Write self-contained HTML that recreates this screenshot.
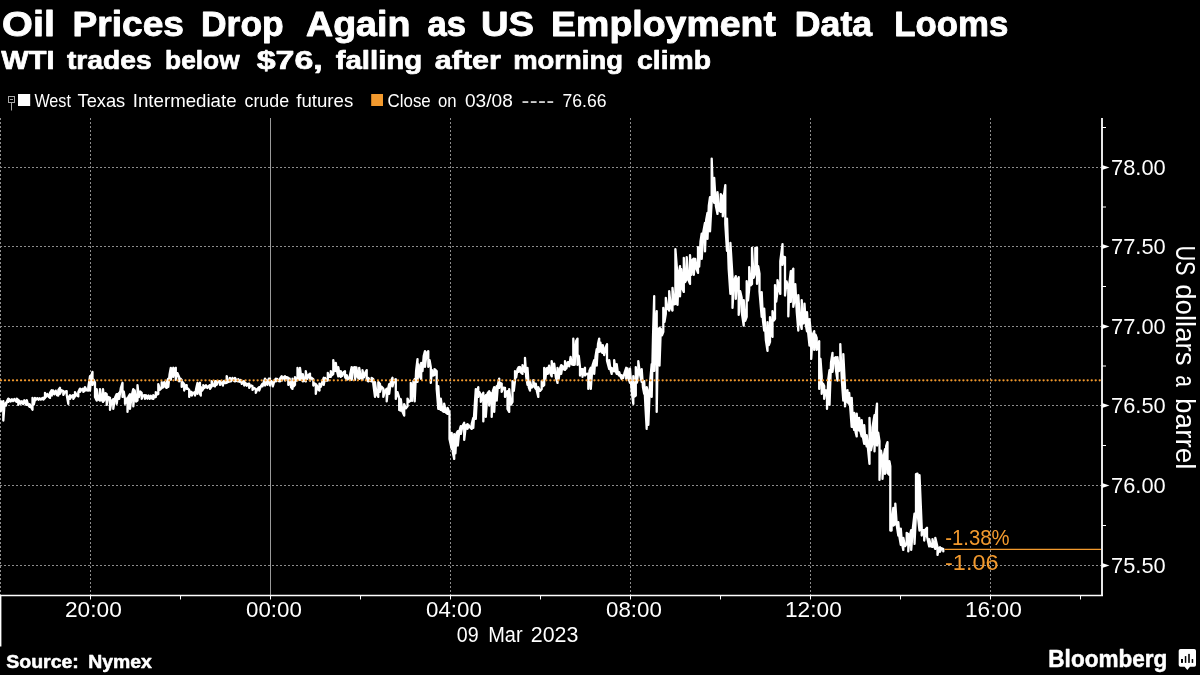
<!DOCTYPE html>
<html><head><meta charset="utf-8"><title>Oil Prices Drop Again as US Employment Data Looms</title>
<style>
html,body{margin:0;padding:0;background:#000;}
body{width:1200px;height:675px;overflow:hidden;font-family:"Liberation Sans",sans-serif;}
svg{display:block;}
.tx{filter:grayscale(1);}
.to{filter:contrast(1);}
text{font-family:"Liberation Sans",sans-serif;fill:#fff;}
.b{font-weight:bold;}
</style></head><body>
<svg width="1200" height="675" viewBox="0 0 1200 675">
<rect x="0" y="0" width="1200" height="675" fill="#000"/>

<g stroke="#8c8c8c" stroke-width="1" stroke-dasharray="2 2" fill="none">
<line x1="0" y1="167.5" x2="1101" y2="167.5"/>
<line x1="0" y1="246.5" x2="1101" y2="246.5"/>
<line x1="0" y1="326.5" x2="1101" y2="326.5"/>
<line x1="0" y1="405.5" x2="1101" y2="405.5"/>
<line x1="0" y1="485.5" x2="1101" y2="485.5"/>
<line x1="0" y1="565.5" x2="1101" y2="565.5"/>
<line x1="90.5" y1="118" x2="90.5" y2="595"/>
<line x1="450.5" y1="118" x2="450.5" y2="595"/>
<line x1="630.5" y1="118" x2="630.5" y2="595"/>
<line x1="810.5" y1="118" x2="810.5" y2="595"/>
<line x1="990.5" y1="118" x2="990.5" y2="595"/>
<line x1="0.5" y1="118" x2="0.5" y2="595"/>
</g>
<line x1="270.5" y1="118" x2="270.5" y2="595" stroke="#9a9a9a" stroke-width="1"/>
<polyline points="0.8,401.1 0.8,411.4 2.0,403.9 3.3,401.1 3.3,420.6 4.5,404.6 5.8,402.8 5.8,405.6 7.1,401.0 8.3,398.6 8.3,401.9 9.5,399.4 10.7,401.5 11.9,399.2 13.1,401.0 14.3,399.0 15.5,401.0 16.7,401.9 16.7,398.6 18.3,400.1 18.3,404.9 19.5,400.8 20.7,403.7 21.9,401.3 23.1,404.1 24.3,400.3 25.5,403.7 26.7,404.9 26.7,400.1 28.2,405.1 29.7,406.9 29.7,404.1 31.1,407.5 32.5,409.7 32.5,397.8 33.8,404.6 35.0,399.7 35.0,397.8 36.2,399.5 37.4,398.1 38.6,399.7 39.7,398.3 40.9,399.6 42.1,398.2 43.3,397.8 43.3,399.7 45.0,397.9 45.0,392.8 46.2,396.7 47.5,394.0 48.8,396.9 50.0,397.9 50.0,392.8 51.7,390.1 51.7,395.6 53.0,390.4 54.3,394.4 55.7,390.7 57.0,395.1 58.3,395.6 58.3,390.1 60.0,387.8 60.0,393.9 61.6,390.3 63.3,391.1 63.3,394.9 65.0,391.6 66.7,391.1 66.7,394.9 68.3,403.9 68.3,397.8 70.0,395.1 70.0,398.9 71.7,396.1 73.3,395.1 73.3,398.9 75.0,396.4 75.0,392.1 76.7,395.3 78.3,396.4 78.3,392.1 80.0,388.6 80.0,391.9 81.7,389.3 83.3,388.6 83.3,391.9 85.0,390.6 85.0,387.1 86.7,390.3 88.3,390.6 88.3,387.1 90.0,376.1 90.0,390.6 91.2,376.2 92.5,371.9 92.5,384.9 93.8,379.9 95.0,382.8 95.0,396.9 96.7,400.6 96.7,389.1 98.3,399.3 100.0,400.6 100.0,389.1 101.5,399.4 103.0,401.9 103.0,389.1 104.2,400.6 105.5,393.1 106.7,394.1 106.7,404.9 108.3,396.9 110.0,397.8 110.0,409.9 111.7,400.7 113.3,399.1 113.3,408.9 115.0,397.7 116.7,394.1 116.7,403.9 118.0,394.5 119.2,392.8 119.2,398.9 120.8,388.1 122.5,382.8 122.5,396.9 123.8,391.7 125.0,399.1 125.0,403.9 126.2,400.3 127.5,397.8 127.5,411.9 128.8,396.0 130.0,394.1 130.0,408.9 131.7,395.5 133.3,389.1 133.3,406.4 134.7,390.4 136.1,401.5 137.5,400.6 137.5,385.1 138.9,397.1 140.3,391.5 141.7,392.8 141.7,398.9 143.3,395.3 145.0,395.1 145.0,398.9 146.2,395.4 147.4,398.7 148.6,395.5 149.7,398.8 150.9,395.8 152.1,398.6 153.3,398.9 153.3,395.1 154.6,397.4 155.8,396.9 155.8,392.1 157.1,394.6 158.3,393.9 158.3,384.1 160.0,389.7 161.7,387.9 161.7,382.1 162.9,387.6 164.2,382.2 165.4,387.1 166.7,387.9 166.7,382.1 168.3,378.6 168.3,386.9 169.6,374.1 170.8,367.8 170.8,379.9 172.1,370.5 173.3,367.8 173.3,376.9 174.6,368.7 175.8,367.8 175.8,379.9 177.5,373.2 179.2,377.1 179.2,381.4 180.4,378.6 181.7,380.1 181.7,386.9 182.9,382.4 184.2,384.1 184.2,390.6 185.4,385.6 186.7,385.1 186.7,388.9 187.9,388.5 189.2,390.1 189.2,396.9 190.4,391.6 191.7,392.1 191.7,395.6 193.3,393.0 195.0,392.1 195.0,395.6 196.2,388.5 197.5,382.8 197.5,393.9 198.8,385.3 200.0,382.8 200.0,393.9 200.8,395.6 200.8,386.9 202.1,390.7 203.3,388.9 203.3,385.1 204.6,387.9 206.0,385.3 207.3,388.0 208.7,385.9 210.0,385.1 210.0,388.9 211.7,386.4 211.7,381.1 213.3,385.5 215.0,386.4 215.0,381.1 216.7,381.1 216.7,384.9 218.3,381.2 220.0,381.1 220.0,384.9 221.4,382.5 222.8,382.1 222.8,385.6 224.1,380.8 225.4,383.1 226.7,382.9 226.7,376.1 228.3,382.0 230.0,381.4 230.0,377.8 231.2,381.2 232.5,377.9 233.8,380.7 235.0,381.4 235.0,377.8 236.7,380.9 238.3,381.4 238.3,379.1 239.5,381.8 240.7,380.0 241.8,383.9 243.0,381.6 244.2,381.1 244.2,385.6 245.4,382.7 246.7,385.8 247.9,383.9 249.2,383.6 249.2,387.9 250.8,385.4 252.5,386.1 252.5,389.9 254.2,388.0 255.8,389.1 255.8,392.9 257.5,388.8 259.2,387.1 259.2,390.6 260.9,386.2 262.5,383.6 262.5,386.4 263.8,381.9 265.0,378.6 265.0,385.6 266.2,379.8 267.5,384.8 268.8,378.7 270.0,378.6 270.0,385.6 271.4,381.2 272.8,382.8 272.8,386.4 274.3,381.1 275.8,378.6 275.8,381.4 277.2,378.9 278.6,381.2 280.0,381.4 280.0,378.6 281.7,376.1 281.7,380.6 283.4,377.3 285.0,376.1 285.0,380.6 286.6,377.1 288.3,377.8 288.3,384.9 289.7,378.6 291.1,387.2 292.5,388.9 292.5,378.6 293.8,386.4 295.0,384.9 295.0,377.1 296.2,380.7 297.5,379.9 297.5,367.8 298.8,377.9 300.0,379.9 300.0,367.8 301.4,378.3 302.8,381.4 302.8,374.1 304.3,380.5 305.8,381.4 305.8,371.1 307.2,378.8 308.6,374.8 310.0,373.6 310.0,380.6 311.6,377.8 313.3,379.1 313.3,385.6 314.6,383.5 315.8,384.1 315.8,393.9 317.0,385.5 318.3,389.6 319.5,390.6 319.5,383.6 320.9,386.8 322.3,381.4 323.7,377.8 323.7,384.9 325.1,377.9 326.4,380.7 327.8,380.6 327.8,372.8 329.3,376.9 330.8,376.9 330.8,371.1 332.1,375.1 333.3,373.9 333.3,360.1 334.6,371.1 335.8,370.6 335.8,362.8 337.1,371.5 338.3,376.4 338.3,367.1 339.6,375.1 340.8,376.9 340.8,371.1 342.2,375.9 343.6,372.1 345.0,371.1 345.0,376.9 346.7,379.9 346.7,375.1 348.4,378.7 350.0,379.9 350.0,375.1 351.7,367.1 351.7,379.9 353.4,367.6 355.0,367.1 355.0,379.9 356.4,367.4 357.8,377.5 359.2,378.9 359.2,367.8 360.9,377.9 362.5,379.9 362.5,370.1 363.9,377.4 365.3,372.5 366.7,370.1 366.7,379.9 368.3,381.4 368.3,377.8 370.0,380.7 371.7,381.4 371.7,377.8 373.3,379.1 373.3,383.9 375.0,396.9 375.0,382.1 376.6,393.9 378.3,396.9 378.3,382.1 380.0,384.1 380.0,391.9 381.6,386.7 383.3,388.6 383.3,396.9 385.0,391.0 386.7,388.6 386.7,401.4 387.9,389.4 389.2,384.1 389.2,393.9 390.9,381.1 392.5,377.8 392.5,386.4 394.1,380.3 395.8,379.1 395.8,398.9 397.5,392.2 399.2,397.8 399.2,409.9 400.8,410.6 400.8,399.1 402.5,411.7 404.2,415.6 404.2,404.1 405.9,408.4 407.5,406.4 407.5,398.6 409.1,401.8 410.8,400.6 410.8,382.8 412.1,400.8 413.4,381.1 414.7,379.1 414.7,401.4 416.1,371.0 417.5,359.1 417.5,381.9 418.7,364.5 420.0,376.7 421.2,378.9 421.2,362.8 422.5,371.2 423.7,356.0 425.0,351.1 425.0,366.9 426.6,353.1 428.3,351.1 428.3,366.9 429.6,360.1 430.8,367.1 430.8,382.9 432.0,370.1 433.3,375.6 434.5,374.9 434.5,369.1 436.7,371.1 436.7,388.9 438.3,408.9 438.3,386.1 439.6,408.5 440.8,409.9 440.8,398.6 442.5,410.9 444.2,411.9 444.2,403.6 445.9,412.6 447.5,413.9 447.5,407.8 449.5,412.8 449.5,438.9 451.7,448.9 451.7,432.8 452.9,452.8 454.2,458.9 454.2,434.1 455.4,453.4 456.6,433.4 457.8,431.1 457.8,445.6 459.3,431.0 460.8,426.1 460.8,433.9 462.5,426.1 464.2,422.8 464.2,439.9 465.9,425.4 467.5,424.1 467.5,428.9 468.9,425.4 470.3,427.6 471.7,428.9 471.7,424.1 473.3,417.8 473.3,427.9 474.6,407.4 475.8,389.1 475.8,418.9 477.1,392.1 478.3,387.1 478.3,396.9 479.6,392.3 480.8,396.1 480.8,401.9 482.1,394.7 483.3,392.8 483.3,421.4 484.6,397.8 485.8,395.1 485.8,416.9 487.5,393.4 489.2,391.1 489.2,405.6 490.4,392.7 491.7,394.1 491.7,416.9 492.9,390.9 494.2,387.1 494.2,411.9 495.4,390.0 496.7,386.1 496.7,400.6 497.9,384.9 499.2,378.6 499.2,387.9 500.4,383.0 501.7,383.6 501.7,391.9 503.4,387.6 505.0,387.8 505.0,396.9 506.2,392.4 507.5,391.1 507.5,408.9 509.2,411.9 509.2,389.1 510.9,404.6 512.5,401.9 512.5,381.1 513.8,390.8 515.0,380.6 515.0,371.1 516.2,377.4 517.5,369.3 518.7,367.1 518.7,371.9 520.0,367.0 521.2,372.8 522.5,373.9 522.5,365.1 523.8,370.0 525.0,371.9 525.0,357.8 526.2,376.9 527.5,384.9 527.5,367.8 528.8,387.4 530.0,390.6 530.0,381.1 531.6,387.7 533.3,385.6 533.3,380.1 534.5,386.9 535.8,388.9 535.8,383.6 537.0,391.8 538.3,396.9 538.3,387.1 540.0,390.9 541.7,388.9 541.7,381.1 543.0,386.2 544.2,384.9 544.2,367.8 545.4,378.8 546.6,368.3 547.8,367.8 547.8,373.9 549.1,365.6 550.4,373.5 551.7,376.4 551.7,361.1 553.0,372.6 554.2,372.9 554.2,363.6 555.9,377.7 557.5,382.9 557.5,367.8 558.7,378.9 560.0,368.5 561.2,365.1 561.2,373.9 562.5,365.9 563.7,369.2 565.0,369.9 565.0,361.1 566.4,368.5 567.8,362.1 569.2,362.1 569.2,366.4 570.6,357.0 571.9,364.5 573.3,364.9 573.3,338.6 574.7,364.8 576.1,341.1 577.5,338.6 577.5,364.9 578.8,356.0 580.0,367.1 580.0,375.6 581.2,369.1 582.5,369.1 582.5,376.9 583.8,370.3 585.0,367.8 585.0,375.6 586.6,373.8 588.3,373.6 588.3,388.9 589.5,370.8 590.8,367.8 590.8,388.9 592.5,365.6 594.2,360.1 594.2,373.9 595.5,356.6 596.7,349.1 596.7,365.6 598.0,344.1 599.2,338.6 599.2,351.9 600.4,342.6 601.6,352.2 602.8,352.9 602.8,345.1 604.2,355.0 605.6,347.4 607.0,344.1 607.0,360.6 609.2,368.9 609.2,360.1 610.5,369.9 611.7,373.9 611.7,367.8 613.0,371.0 614.2,371.4 614.2,360.1 615.5,370.4 616.7,373.9 616.7,364.1 618.0,374.0 619.2,375.6 619.2,372.1 620.5,376.5 621.7,378.9 621.7,375.1 623.2,377.9 624.7,372.3 626.2,367.8 626.2,378.9 627.5,368.4 628.7,379.2 630.0,382.9 630.0,368.6 631.6,390.3 633.3,403.9 633.3,376.1 634.5,396.5 635.8,395.6 635.8,367.1 637.0,382.6 638.3,370.6 638.3,361.1 640.0,374.5 641.7,381.9 641.7,369.1 643.0,387.6 644.2,393.9 644.2,381.1 645.5,407.7 646.7,428.9 646.7,387.1 648.3,394.1 648.3,424.9 650.0,383.2 651.7,364.1 651.7,396.9 653.0,337.1 654.2,296.1 654.2,370.9 655.5,327.3 656.7,311.1 656.7,411.9 658.1,330.1 659.5,327.8 659.5,365.6 660.8,328.6 662.0,335.3 663.3,331.9 663.3,307.8 664.5,321.8 665.8,313.9 665.8,297.8 667.5,308.2 669.2,310.6 669.2,291.1 670.9,307.5 672.5,310.6 672.5,287.8 674.0,304.3 675.4,303.9 675.4,249.1 677.5,276.1 677.5,304.9 678.8,274.7 680.0,266.1 680.0,296.4 681.3,269.2 682.5,289.1 683.8,291.9 683.8,257.8 685.2,282.0 686.7,278.9 686.7,257.1 688.4,279.9 690.0,283.9 690.0,255.1 691.3,274.8 692.5,259.9 693.8,258.6 693.8,274.9 695.2,258.8 696.6,269.1 698.0,272.9 698.0,247.1 699.2,266.6 700.5,241.5 701.7,233.6 701.7,258.9 703.4,231.4 705.0,222.8 705.0,251.4 706.2,219.6 707.5,212.8 707.5,238.9 708.8,205.7 710.0,197.1 710.0,231.4 711.7,200.6 711.7,158.6 713.0,196.6 714.2,202.9 714.2,177.8 715.9,205.9 717.5,213.9 717.5,192.1 719.1,210.2 720.8,211.9 720.8,194.1 722.8,197.1 722.8,216.4 724.0,195.0 725.3,185.1 725.3,223.9 727.0,250.9 727.0,218.6 728.7,268.9 730.4,293.9 730.4,242.8 732.5,277.1 732.5,307.9 734.1,280.6 735.8,276.1 735.8,298.9 737.2,280.5 738.7,277.1 738.7,314.9 740.2,291.2 741.7,297.8 741.7,311.9 743.7,325.6 743.7,300.1 745.2,320.8 746.7,316.9 746.7,281.1 748.0,300.5 749.2,288.9 749.2,267.1 750.6,285.4 752.0,283.9 752.0,247.8 753.6,277.9 755.3,272.9 755.3,247.8 757.0,247.8 757.0,283.9 758.2,266.2 759.5,273.6 759.5,291.4 761.7,316.9 761.7,292.1 763.0,320.9 764.2,330.6 764.2,308.6 765.9,340.4 767.5,350.9 767.5,322.1 768.8,345.2 770.0,341.9 770.0,317.1 771.2,333.4 772.5,336.9 772.5,311.1 773.8,320.7 775.0,318.9 775.0,285.1 776.2,301.7 777.5,291.4 777.5,280.1 778.9,287.0 780.3,293.9 780.3,261.1 782.5,244.1 782.5,264.9 783.8,256.8 785.0,257.1 785.0,295.6 786.6,281.5 788.3,289.1 788.3,316.4 789.5,282.7 790.8,271.1 790.8,301.9 792.0,271.9 793.3,268.6 793.3,306.9 795.3,295.6 795.3,284.1 796.8,312.4 798.3,330.6 798.3,295.1 800.0,322.3 801.7,328.9 801.7,300.1 803.1,323.6 804.5,321.9 804.5,303.6 805.8,324.9 807.0,331.4 807.0,312.1 808.2,333.1 809.5,345.6 809.5,319.1 811.2,336.9 811.2,358.9 812.7,334.7 814.2,331.1 814.2,349.9 815.5,334.6 816.7,337.8 816.7,349.9 818.0,345.9 819.2,341.1 819.2,388.9 820.5,359.0 821.7,376.1 821.7,393.9 823.0,383.6 824.2,386.1 824.2,398.9 825.6,390.3 827.0,390.1 827.0,408.9 828.2,380.2 829.5,370.1 829.5,404.9 831.0,362.7 832.5,352.8 832.5,371.9 834.1,358.5 835.8,357.1 835.8,368.9 837.5,380.6 837.5,357.1 838.9,371.0 840.3,368.9 840.3,344.1 841.8,380.0 843.3,400.6 843.3,354.1 845.0,387.1 845.0,406.4 846.2,391.4 847.5,390.1 847.5,401.9 849.2,403.9 849.2,392.8 850.5,411.0 851.7,426.9 851.7,397.8 853.0,424.1 854.2,429.9 854.2,412.8 855.5,431.6 856.7,436.4 856.7,413.6 858.0,428.7 859.2,430.6 859.2,417.8 860.5,431.7 861.7,436.4 861.7,420.1 863.0,437.4 864.2,443.9 864.2,425.1 865.5,441.1 866.7,446.4 866.7,435.1 868.1,449.9 869.5,463.9 869.5,417.8 871.0,450.2 872.5,442.9 872.5,427.1 874.5,415.1 874.5,451.4 875.8,414.6 877.0,403.6 877.0,445.6 878.2,432.7 879.5,441.1 879.5,479.9 881.0,450.7 882.5,460.1 882.5,478.9 883.8,455.9 885.0,449.1 885.0,473.9 886.2,445.8 887.5,442.1 887.5,472.9 889.4,474.9 889.4,461.1 890.3,466.1 890.3,530.6 891.6,530.6 891.6,523.1 893.3,507.8 893.3,525.6 895.3,523.9 895.3,503.6 896.8,525.6 898.3,535.6 898.3,522.1 899.5,537.2 900.8,544.9 900.8,528.6 902.0,543.6 903.3,549.9 903.3,537.8 905.0,546.2 906.7,543.9 906.7,532.8 908.3,534.1 908.3,551.4 909.8,535.8 911.2,530.1 911.2,549.9 912.9,527.8 914.5,513.6 914.5,543.9 916.0,512.9 916.0,474.1 917.5,473.6 917.5,512.9 919.5,530.6 919.5,475.1 921.7,527.1 921.7,535.6 923.0,530.1 924.2,530.1 924.2,540.6 925.6,529.2 927.0,527.8 927.0,536.4 929.2,546.4 929.2,539.1 930.9,546.3 932.5,546.9 932.5,539.1 933.9,546.0 935.3,548.9 935.3,537.8 937.5,547.1 937.5,554.9 938.8,548.6 940.0,547.1 940.0,551.9 941.6,548.2 943.3,549.1 943.3,551.4" fill="none" stroke="#fff" stroke-width="2.3" stroke-linejoin="round" stroke-linecap="round"/>
<line x1="1" y1="380.3" x2="1101" y2="380.3" stroke="#f39a2e" stroke-width="2.3" stroke-dasharray="0.01 4" stroke-linecap="round"/>
<line x1="944.5" y1="549.4" x2="1101" y2="549.4" stroke="#f39a2e" stroke-width="1.2"/>
<g stroke="#fff" fill="none">
<line x1="1102" y1="118" x2="1102" y2="596" stroke-width="1.8"/>
<line x1="0" y1="595.5" x2="1103" y2="595.5" stroke-width="1.4"/>
<line x1="0.7" y1="595" x2="0.7" y2="646.5" stroke-width="1.4"/>
<line x1="1102" y1="127.5" x2="1106" y2="127.5" stroke-width="1"/>
<line x1="1102" y1="207.0" x2="1106" y2="207.0" stroke-width="1"/>
<line x1="1102" y1="286.5" x2="1106" y2="286.5" stroke-width="1"/>
<line x1="1102" y1="366.0" x2="1106" y2="366.0" stroke-width="1"/>
<line x1="1102" y1="445.5" x2="1106" y2="445.5" stroke-width="1"/>
<line x1="1102" y1="525.5" x2="1106" y2="525.5" stroke-width="1"/>
<line x1="90.5" y1="595" x2="90.5" y2="599.5" stroke-width="1"/>
<line x1="180.5" y1="595" x2="180.5" y2="599.5" stroke-width="1"/>
<line x1="270.5" y1="595" x2="270.5" y2="599.5" stroke-width="1"/>
<line x1="360.5" y1="595" x2="360.5" y2="599.5" stroke-width="1"/>
<line x1="450.5" y1="595" x2="450.5" y2="599.5" stroke-width="1"/>
<line x1="540.5" y1="595" x2="540.5" y2="599.5" stroke-width="1"/>
<line x1="630.5" y1="595" x2="630.5" y2="599.5" stroke-width="1"/>
<line x1="720.5" y1="595" x2="720.5" y2="599.5" stroke-width="1"/>
<line x1="810.5" y1="595" x2="810.5" y2="599.5" stroke-width="1"/>
<line x1="900.5" y1="595" x2="900.5" y2="599.5" stroke-width="1"/>
<line x1="990.5" y1="595" x2="990.5" y2="599.5" stroke-width="1"/>
<line x1="1080.5" y1="595" x2="1080.5" y2="599.5" stroke-width="1"/>
</g>
<polygon points="1102,164.9 1109.5,167.5 1102,170.1" fill="#fff"/>
<polygon points="1102,243.9 1109.5,246.5 1102,249.1" fill="#fff"/>
<polygon points="1102,323.9 1109.5,326.5 1102,329.1" fill="#fff"/>
<polygon points="1102,402.9 1109.5,405.5 1102,408.1" fill="#fff"/>
<polygon points="1102,482.9 1109.5,485.5 1102,488.1" fill="#fff"/>
<polygon points="1102,562.9 1109.5,565.5 1102,568.1" fill="#fff"/>
<g class="tx">
<text x="2.14" y="36.4" font-size="35.6" class="b" style="stroke:#fff;stroke-width:0.9px;stroke-linejoin:round" textLength="52.81" lengthAdjust="spacingAndGlyphs">Oil</text>
<text x="72.56" y="36.4" font-size="35.6" class="b" style="stroke:#fff;stroke-width:0.9px;stroke-linejoin:round" textLength="111.41" lengthAdjust="spacingAndGlyphs">Prices</text>
<text x="201.06" y="36.4" font-size="35.6" class="b" style="stroke:#fff;stroke-width:0.9px;stroke-linejoin:round" textLength="82.62" lengthAdjust="spacingAndGlyphs">Drop</text>
<text x="306.05" y="36.4" font-size="35.6" class="b" style="stroke:#fff;stroke-width:0.9px;stroke-linejoin:round" textLength="104.33" lengthAdjust="spacingAndGlyphs">Again</text>
<text x="427.48" y="36.4" font-size="35.6" class="b" style="stroke:#fff;stroke-width:0.9px;stroke-linejoin:round" textLength="38.54" lengthAdjust="spacingAndGlyphs">as</text>
<text x="481.0" y="36.4" font-size="35.6" class="b" style="stroke:#fff;stroke-width:0.9px;stroke-linejoin:round" textLength="53.03" lengthAdjust="spacingAndGlyphs">US</text>
<text x="551.14" y="36.4" font-size="35.6" class="b" style="stroke:#fff;stroke-width:0.9px;stroke-linejoin:round" textLength="224.85" lengthAdjust="spacingAndGlyphs">Employment</text>
<text x="794.85" y="36.4" font-size="35.6" class="b" style="stroke:#fff;stroke-width:0.9px;stroke-linejoin:round" textLength="77.29" lengthAdjust="spacingAndGlyphs">Data</text>
<text x="894.29" y="36.4" font-size="35.6" class="b" style="stroke:#fff;stroke-width:0.9px;stroke-linejoin:round" textLength="114.02" lengthAdjust="spacingAndGlyphs">Looms</text>
<text x="1.35" y="68.6" font-size="25.8" class="b" style="stroke:#fff;stroke-width:0.7px;stroke-linejoin:round" textLength="53.21" lengthAdjust="spacingAndGlyphs">WTI</text>
<text x="66.95" y="68.6" font-size="25.8" class="b" style="stroke:#fff;stroke-width:0.7px;stroke-linejoin:round" textLength="84.68" lengthAdjust="spacingAndGlyphs">trades</text>
<text x="165.13" y="68.6" font-size="25.8" class="b" style="stroke:#fff;stroke-width:0.7px;stroke-linejoin:round" textLength="74.47" lengthAdjust="spacingAndGlyphs">below</text>
<text x="256.75" y="68.6" font-size="25.8" class="b" style="stroke:#fff;stroke-width:0.7px;stroke-linejoin:round" textLength="66.04" lengthAdjust="spacingAndGlyphs">$76,</text>
<text x="335.65" y="68.6" font-size="25.8" class="b" style="stroke:#fff;stroke-width:0.7px;stroke-linejoin:round" textLength="86.66" lengthAdjust="spacingAndGlyphs">falling</text>
<text x="434.85" y="68.6" font-size="25.8" class="b" style="stroke:#fff;stroke-width:0.7px;stroke-linejoin:round" textLength="65.95" lengthAdjust="spacingAndGlyphs">after</text>
<text x="513.19" y="68.6" font-size="25.8" class="b" style="stroke:#fff;stroke-width:0.7px;stroke-linejoin:round" textLength="109.77" lengthAdjust="spacingAndGlyphs">morning</text>
<text x="637.05" y="68.6" font-size="25.8" class="b" style="stroke:#fff;stroke-width:0.7px;stroke-linejoin:round" textLength="73.93" lengthAdjust="spacingAndGlyphs">climb</text>
<text x="34.4" y="107" font-size="18.5" textLength="36.52" lengthAdjust="spacingAndGlyphs">West</text>
<text x="77.5" y="107" font-size="18.5" textLength="47.75" lengthAdjust="spacingAndGlyphs">Texas</text>
<text x="132.79" y="107" font-size="18.5" textLength="103.8" lengthAdjust="spacingAndGlyphs">Intermediate</text>
<text x="244.5" y="107" font-size="18.5" textLength="44.58" lengthAdjust="spacingAndGlyphs">crude</text>
<text x="296.3" y="107" font-size="18.5" textLength="56.95" lengthAdjust="spacingAndGlyphs">futures</text>
<text x="387.5" y="107" font-size="18.5" textLength="43.26" lengthAdjust="spacingAndGlyphs">Close</text>
<text x="438.0" y="107" font-size="18.5" textLength="18.56" lengthAdjust="spacingAndGlyphs">on</text>
<text x="465.0" y="107" font-size="18.5" textLength="47.8" lengthAdjust="spacingAndGlyphs">03/08</text>
<text x="562.5" y="107" font-size="18.5" textLength="44.07" lengthAdjust="spacingAndGlyphs">76.66</text>
<text x="1111.05" y="175.0" font-size="22.9" textLength="54.65" lengthAdjust="spacingAndGlyphs">78.00</text>
<text x="1111.05" y="254.0" font-size="22.9" textLength="54.65" lengthAdjust="spacingAndGlyphs">77.50</text>
<text x="1111.05" y="334.0" font-size="22.9" textLength="54.65" lengthAdjust="spacingAndGlyphs">77.00</text>
<text x="1111.05" y="413.0" font-size="22.9" textLength="54.65" lengthAdjust="spacingAndGlyphs">76.50</text>
<text x="1111.05" y="493.0" font-size="22.9" textLength="54.65" lengthAdjust="spacingAndGlyphs">76.00</text>
<text x="1111.05" y="573.0" font-size="22.9" textLength="54.65" lengthAdjust="spacingAndGlyphs">75.50</text>
<text x="65.01" y="617" font-size="22.9" textLength="56.82" lengthAdjust="spacingAndGlyphs">20:00</text>
<text x="246.0" y="617" font-size="22.9" textLength="55.81" lengthAdjust="spacingAndGlyphs">00:00</text>
<text x="426.0" y="617" font-size="22.9" textLength="55.81" lengthAdjust="spacingAndGlyphs">04:00</text>
<text x="606.0" y="617" font-size="22.9" textLength="55.81" lengthAdjust="spacingAndGlyphs">08:00</text>
<text x="785.01" y="617" font-size="22.9" textLength="56.82" lengthAdjust="spacingAndGlyphs">12:00</text>
<text x="965.01" y="617" font-size="22.9" textLength="56.82" lengthAdjust="spacingAndGlyphs">16:00</text>
<text x="456.8" y="642" font-size="22.9" textLength="21.83" lengthAdjust="spacingAndGlyphs">09</text>
<text x="488.23" y="642" font-size="22.9" textLength="34.34" lengthAdjust="spacingAndGlyphs">Mar</text>
<text x="530.76" y="642" font-size="22.9" textLength="47.72" lengthAdjust="spacingAndGlyphs">2023</text>
<text x="6.25" y="667.7" font-size="18" class="b" style="stroke:#fff;stroke-width:0.5px;stroke-linejoin:round" textLength="72.58" lengthAdjust="spacingAndGlyphs">Source:</text>
<text x="88.17" y="667.7" font-size="18" class="b" style="stroke:#fff;stroke-width:0.5px;stroke-linejoin:round" textLength="63.59" lengthAdjust="spacingAndGlyphs">Nymex</text>
<text x="1048.33" y="667" font-size="24.5" class="b" style="stroke:#fff;stroke-width:0.5px;stroke-linejoin:round" textLength="119.01" lengthAdjust="spacingAndGlyphs">Bloomberg</text>
<text transform="translate(1175.6,0) rotate(90)" x="245.5" y="0" font-size="27" textLength="30.01" lengthAdjust="spacingAndGlyphs">US</text>
<text transform="translate(1175.6,0) rotate(90)" x="284.28" y="0" font-size="27" textLength="81.23" lengthAdjust="spacingAndGlyphs">dollars</text>
<text transform="translate(1175.6,0) rotate(90)" x="375.23" y="0" font-size="27" textLength="11.61" lengthAdjust="spacingAndGlyphs">a</text>
<text transform="translate(1175.6,0) rotate(90)" x="398.06" y="0" font-size="27" textLength="71.47" lengthAdjust="spacingAndGlyphs">barrel</text>
</g><g class="to">
<text x="945.21" y="545" font-size="22.9" style="fill:#f39a2e" textLength="64.3" lengthAdjust="spacingAndGlyphs">-1.38%</text>
<text x="945.08" y="570" font-size="22.9" style="fill:#f39a2e" textLength="53.37" lengthAdjust="spacingAndGlyphs">-1.06</text>
</g>
<rect x="522.5" y="101.3" width="5.8" height="1.5" fill="#fff"/>
<rect x="530.8" y="101.3" width="5.8" height="1.5" fill="#fff"/>
<rect x="539.1" y="101.3" width="5.8" height="1.5" fill="#fff"/>
<rect x="547.4" y="101.3" width="5.8" height="1.5" fill="#fff"/>
<g stroke="#a8a8a8" stroke-width="1" fill="none"><rect x="8.5" y="96.5" width="6" height="6"/><line x1="10" y1="99.5" x2="13" y2="99.5"/><line x1="11.5" y1="103" x2="11.5" y2="110.5"/></g>
<rect x="18" y="94" width="12.2" height="12" fill="#fff"/>
<rect x="371.2" y="94" width="11.8" height="12" fill="#f39a2e"/>
<path d="M1180.5 649 h13.7 a1.8 1.8 0 0 1 1.8 1.8 v14.2 a1.8 1.8 0 0 1 -1.8 1.8 h-4.2 l-2.7 3.3 l-2.7 -3.3 h-4.1 a1.8 1.8 0 0 1 -1.8 -1.8 v-14.2 a1.8 1.8 0 0 1 1.8 -1.8 z" fill="#fff"/>
<g fill="#000"><rect x="1181" y="659" width="2" height="3.9"/><rect x="1184.8" y="656.1" width="1.5" height="6.8"/><rect x="1188.2" y="653.9" width="1.6" height="9"/><rect x="1191.7" y="659" width="1.5" height="3.9"/></g>
</svg></body></html>
